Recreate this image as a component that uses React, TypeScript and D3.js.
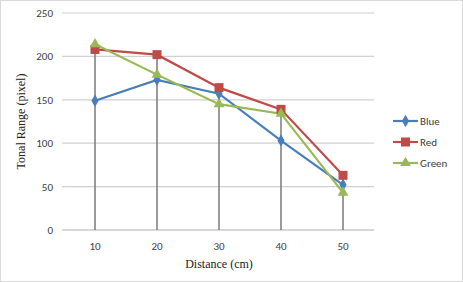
import React, { useEffect, useRef } from "react";
import * as d3 from "d3";

const categories = ["10", "20", "30", "40", "50"];
const blueValues = [149, 173, 157, 103, 52];
const redValues = [208, 202, 164, 139, 63];
const greenValues = [214, 179, 145, 134, 43];
const yTicks = [0, 50, 100, 150, 200, 250];
const seriesNames = ["Blue", "Red", "Green"];

const W = 463, H = 282;
const colors = ["#4a7ebb", "#be4b48", "#98b954"];

export default function App() {
  const ref = useRef<SVGSVGElement>(null);
  useEffect(() => {
    const svg = d3.select(ref.current);
    svg.selectAll("*").remove();
    const left = 62, right = 374, top = 13, bottom = 230;
    const x = d3.scalePoint<string>().domain(categories).range([64, right]).padding(0.5);
    const y = d3.scaleLinear().domain([0, 250]).range([bottom, top]);

    svg.append("rect").attr("x", 0.5).attr("y", 0.5).attr("width", W - 1).attr("height", H - 1)
      .attr("fill", "#fff").attr("stroke", "#d9d9d9");

    // gridlines
    svg.append("g").selectAll("line").data(yTicks).join("line")
      .attr("x1", left).attr("x2", right)
      .attr("y1", d => y(d)).attr("y2", d => y(d))
      .attr("stroke", d => d === 0 ? "#b0b0b0" : "#d0d0d0").attr("stroke-width", 1.2);

    // y tick labels
    svg.append("g").selectAll("text").data(yTicks).join("text")
      .attr("x", 53).attr("y", d => y(d) + 4).attr("text-anchor", "end")
      .attr("font-family", "Carlito, 'Liberation Sans', Arial, sans-serif").attr("font-size", 11)
      .attr("fill", "#404040").text(d => d);

    // x tick labels
    svg.append("g").selectAll("text").data(categories).join("text")
      .attr("x", d => x(d)!).attr("y", 250).attr("text-anchor", "middle")
      .attr("font-family", "Carlito, 'Liberation Sans', Arial, sans-serif").attr("font-size", 11)
      .attr("fill", "#404040").text(d => d);

    const all = [blueValues, redValues, greenValues];
    // drop lines
    svg.append("g").selectAll("line").data(categories).join("line")
      .attr("x1", d => x(d)!).attr("x2", d => x(d)!)
      .attr("y1", (d, i) => y(Math.max(...all.map(s => s[i]))))
      .attr("y2", bottom)
      .attr("stroke", "#7a7a7a").attr("stroke-width", 1.5);

    const line = d3.line<number>().x((d, i) => x(categories[i])!).y(d => y(d));
    all.forEach((vals, si) => {
      svg.append("path").attr("d", line(vals)!).attr("fill", "none")
        .attr("stroke", colors[si]).attr("stroke-width", 2.2);
    });

    const marker = (g: any, si: number, cx: number, cy: number) => {
      if (si === 0) {
        g.append("path").attr("d", d3.symbol(d3.symbolDiamond, 45)()!)
          .attr("transform", `translate(${cx},${cy})`).attr("fill", colors[0]);
      } else if (si === 1) {
        g.append("rect").attr("x", cx - 4.5).attr("y", cy - 4.5).attr("width", 9).attr("height", 9)
          .attr("fill", colors[1]);
      } else {
        g.append("path").attr("d", d3.symbol(d3.symbolTriangle, 50)()!)
          .attr("transform", `translate(${cx},${cy})`).attr("fill", colors[2]);
      }
    };
    all.forEach((vals, si) => {
      const g = svg.append("g");
      vals.forEach((v, i) => marker(g, si, x(categories[i])!, y(v)));
    });

    // legend
    seriesNames.forEach((name, si) => {
      const ly = 121 + si * 21;
      svg.append("line").attr("x1", 393).attr("x2", 418).attr("y1", ly).attr("y2", ly)
        .attr("stroke", colors[si]).attr("stroke-width", 2.2);
      marker(svg, si, 405.5, ly);
      svg.append("text").attr("x", 420).attr("y", ly + 4)
        .attr("font-family", "Carlito, 'Liberation Sans', Arial, sans-serif").attr("font-size", 11)
        .attr("fill", "#404040").text(name);
    });

    // axis titles
    svg.append("text").attr("x", 219).attr("y", 268).attr("text-anchor", "middle")
      .attr("font-family", "'Liberation Serif', 'Times New Roman', serif").attr("font-size", 12)
      .attr("fill", "#222").text("Distance (cm)");
    svg.append("text").attr("transform", `translate(25,${(top + bottom) / 2}) rotate(-90)`)
      .attr("text-anchor", "middle")
      .attr("font-family", "'Liberation Serif', 'Times New Roman', serif").attr("font-size", 12)
      .attr("fill", "#222").text("Tonal Range (pixel)");
  }, []);
  return (
    <div style={{ position: "absolute", left: 0, top: 0 }}>
      <svg ref={ref} width={W} height={H} />
    </div>
  );
}
